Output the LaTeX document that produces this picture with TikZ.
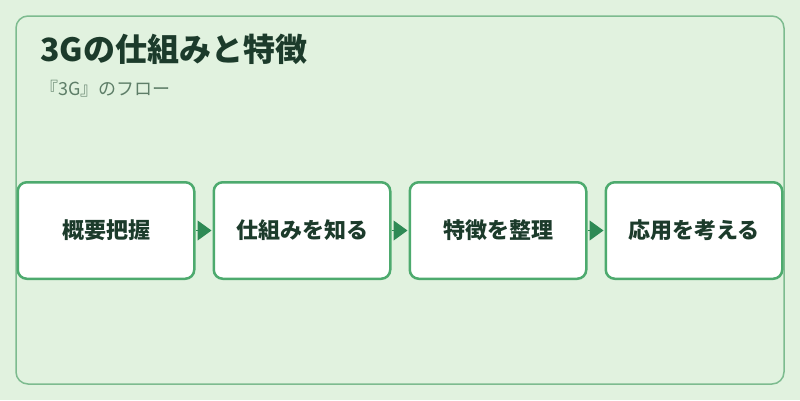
\documentclass[tikz,border=0pt]{standalone}
\usepackage{fontspec}
\setmainfont{Noto Sans CJK JP}
\usetikzlibrary{arrows.meta}
\definecolor{bg}{HTML}{E1F2DF}
\definecolor{frameline}{HTML}{7DBB8F}
\definecolor{boxline}{HTML}{4DAA6E}
\definecolor{arrowgreen}{HTML}{2E8A55}
\definecolor{ink}{HTML}{1C3B2B}
\definecolor{subink}{HTML}{5E7E68}
\begin{document}
\begin{tikzpicture}[x=1pt, y=-1pt, >={Triangle[length=14pt,width=20pt]},
    stepbox/.style={draw=boxline, line width=2.5pt, fill=white, rounded corners=9pt,
      minimum width=176.5pt, minimum height=96.5pt, text=ink,
      font=\fontsize{22}{26}\selectfont\bfseries}]
    \fill[bg] (0,0) rectangle (800,400);
    \draw[frameline, line width=1.5pt, rounded corners=12pt] (16,16) rectangle (784,384);
    \node[anchor=base west, inner sep=0pt, text=ink, font=\fontsize{32}{38}\selectfont\bfseries] (title) at (40,61) {3Gの仕組みと特徴};
    \node[anchor=base west, inner sep=0pt, text=subink, font=\fontsize{18}{22}\selectfont] (subtitle) at (40,95) {『3G』のフロー};
    \node[stepbox] (overview) at (106,230.5) {概要把握};
    \node[stepbox] (mechanism) at (302,230.5) {仕組みを知る};
    \node[stepbox] (features) at (498,230.5) {特徴を整理};
    \node[stepbox] (apply) at (694,230.5) {応用を考える};
    \draw[->, arrowgreen, line width=1pt, shorten >=1pt] (overview) -- (mechanism);
    \draw[->, arrowgreen, line width=1pt, shorten >=1pt] (mechanism) -- (features);
    \draw[->, arrowgreen, line width=1pt, shorten >=1pt] (features) -- (apply);
\end{tikzpicture}
\end{document}
